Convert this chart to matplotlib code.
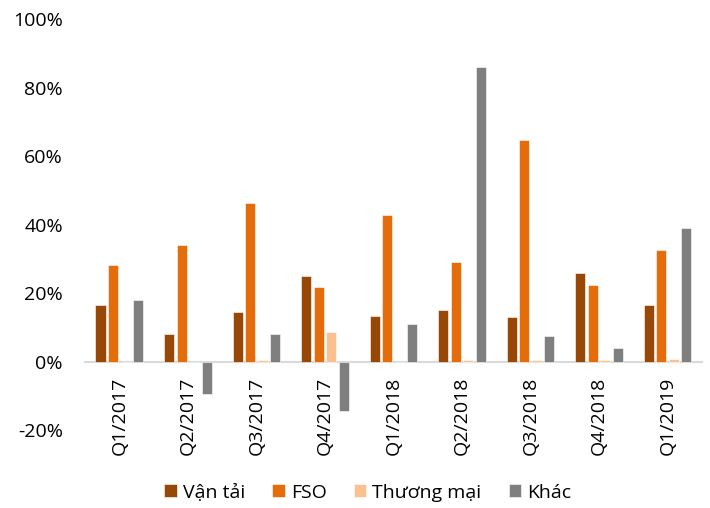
import numpy as np
import matplotlib
matplotlib.use("Agg")
import matplotlib.pyplot as plt
from matplotlib.ticker import FuncFormatter

plt.rcParams["font.family"] = ["Open Sans", "DejaVu Sans"]

quarters = ["Q1/2017", "Q2/2017", "Q3/2017", "Q4/2017", "Q1/2018",
            "Q2/2018", "Q3/2018", "Q4/2018", "Q1/2019"]
van_tai = [16.5, 7.9, 14.5, 25.1, 13.4, 15.1, 12.9, 25.9, 16.6]
fso = [28.3, 34.0, 46.2, 21.8, 42.8, 29.2, 64.8, 22.3, 32.5]
thuong_mai = [0.0, 0.0, 0.3, 8.7, 0.0, 0.3, 0.3, 0.3, 0.8]
khac = [18.0, -9.5, 8.1, -14.4, 11.0, 85.9, 7.5, 4.0, 38.9]

series = [("Vận tải", van_tai, "#974706"),
          ("FSO", fso, "#E46C0A"),
          ("Thương mại", thuong_mai, "#FAC090"),
          ("Khác", khac, "#7F7F7F")]

fig = plt.figure(figsize=(7.1, 5.08), dpi=100)
ax = fig.add_axes([0.1197, 0.1535, 0.869, 0.809])

x = np.arange(len(quarters))
pitch = 0.1825
width = 0.146
for i, (name, vals, col) in enumerate(series):
    ax.bar(x + (i - 1.5) * pitch, vals, width, color=col, label=name,
           edgecolor="white", linewidth=0.4, zorder=3)

ax.set_xlim(-0.5, len(quarters) - 0.5)
ax.set_ylim(-20, 100)
ax.set_yticks(np.arange(-20, 101, 20))
ax.yaxis.set_major_formatter(FuncFormatter(lambda v, p: f"{v:.0f}%"))

for s in ["top", "right", "left"]:
    ax.spines[s].set_visible(False)
ax.spines["bottom"].set_position(("data", 0))
ax.spines["bottom"].set_color("#D9D9D9")
ax.spines["bottom"].set_linewidth(1.5)

ax.set_xticks(x)
ax.set_xticklabels(quarters, rotation=90, fontsize=14)
ax.tick_params(axis="x", length=0, pad=11)
ax.tick_params(axis="y", length=0, pad=16, labelsize=14)

fig.legend(loc="center", bbox_to_anchor=(0.518, 0.03), ncol=4,
           frameon=False, fontsize=14, handlelength=0.65, handleheight=0.65,
           handletextpad=0.3, columnspacing=1.4)

fig.savefig("out.png", dpi=100)
